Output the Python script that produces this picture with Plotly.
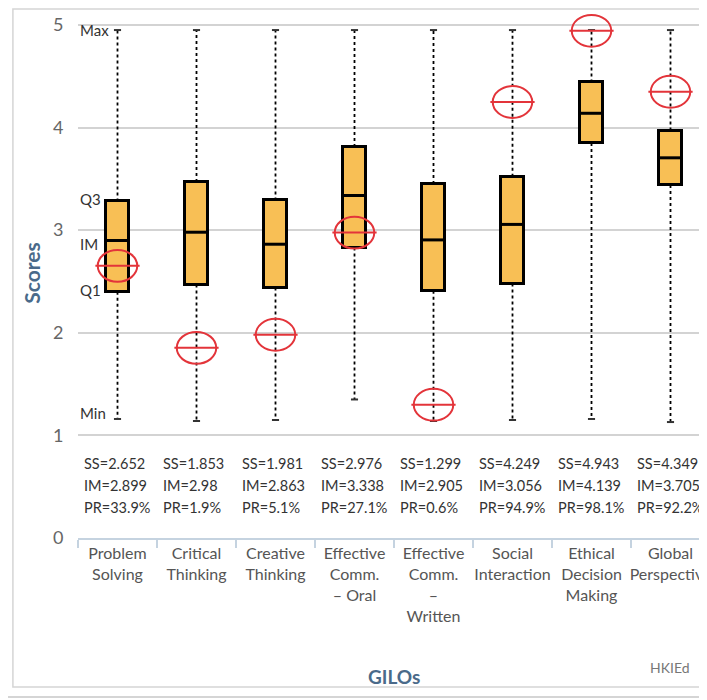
import plotly.graph_objects as go

categories = ["Problem<br>Solving", "Critical<br>Thinking", "Creative<br>Thinking",
              "Effective<br>Comm.<br>– Oral", "Effective<br>Comm.<br>–<br>Written",
              "Social<br>Interaction", "Ethical<br>Decision<br>Making", "Global<br>Perspective"]
q1 = [2.40, 2.47, 2.44, 2.83, 2.41, 2.48, 3.85, 3.44]
median = [2.899, 2.98, 2.863, 3.338, 2.905, 3.056, 4.139, 3.705]
q3 = [3.28, 3.47, 3.29, 3.81, 3.45, 3.52, 4.44, 3.97]
vmin = [1.16, 1.14, 1.15, 1.35, 1.14, 1.15, 1.16, 1.13]
vmax = [4.95, 4.95, 4.95, 4.95, 4.95, 4.95, 4.95, 4.95]
ss = [2.652, 1.853, 1.981, 2.976, 1.299, 4.249, 4.943, 4.349]
pr = ["33.9%", "1.9%", "5.1%", "27.1%", "0.6%", "94.9%", "98.1%", "92.2%"]
ytick_vals = [0, 1, 2, 3, 4, 5]

FONT = "Lato"
xs = list(range(len(categories)))
BOXW = 0.30

fig = go.Figure()

# whiskers
wx, wy = [], []
for i in xs:
    wx += [i, i, None, i, i, None]
    wy += [q3[i], vmax[i], None, q1[i], vmin[i], None]
fig.add_trace(go.Scatter(x=wx, y=wy, mode="lines",
                         line=dict(color="black", width=1.8, dash="dot"),
                         hoverinfo="skip", showlegend=False))
# caps
cx, cy = [], []
for i in xs:
    for v in (vmax[i], vmin[i]):
        cx += [i - 0.045, i + 0.045, None]
        cy += [v, v, None]
fig.add_trace(go.Scatter(x=cx, y=cy, mode="lines",
                         line=dict(color="#333", width=2),
                         hoverinfo="skip", showlegend=False))

# boxes
fig.add_trace(go.Bar(x=xs, y=[q3[i] - q1[i] for i in xs], base=q1, width=BOXW,
                     marker=dict(color="#F8BF55", line=dict(color="black", width=3)),
                     showlegend=False, hoverinfo="skip"))
# medians
mx, my = [], []
for i in xs:
    mx += [i - BOXW / 2, i + BOXW / 2, None]
    my += [median[i], median[i], None]
fig.add_trace(go.Scatter(x=mx, y=my, mode="lines",
                         line=dict(color="black", width=3),
                         hoverinfo="skip", showlegend=False))

shapes = []
annotations = []
RED = "#E3343A"
for i in xs:
    shapes.append(dict(type="circle", xref="x", yref="y",
                       x0=i - 0.25, x1=i + 0.25, y0=ss[i] - 0.155, y1=ss[i] + 0.155,
                       line=dict(color=RED, width=2)))
    shapes.append(dict(type="line", xref="x", yref="y",
                       x0=i - 0.28, x1=i + 0.28, y0=ss[i], y1=ss[i],
                       line=dict(color=RED, width=2)))
    for txt, yv in ((f"SS={ss[i]}", 0.73), (f"IM={median[i]}", 0.515),
                    (f"PR={pr[i]}", 0.30)):
        annotations.append(dict(x=i - 0.45, y=yv, xref="x", yref="y", text=txt,
                                showarrow=False, xanchor="left", yanchor="middle",
                                font=dict(family=FONT, size=14.5, color="#333")))

# labels on first box
for txt, yv in (("Max", vmax[0]), ("Q3", q3[0] + 0.02), ("IM", median[0] - 0.03),
                ("Q1", q1[0] + 0.02), ("Min", vmin[0] + 0.06)):
    annotations.append(dict(x=-0.5, y=yv, xref="x", yref="y", text=txt,
                            showarrow=False, xanchor="left", yanchor="middle",
                            font=dict(family=FONT, size=15, color="#333")))

# axis title and credit
annotations.append(dict(x=0.5, y=-0.262, xref="paper", yref="paper", text="<b>GILOs</b>",
                        showarrow=False, xanchor="center", yanchor="middle",
                        font=dict(family=FONT, size=19, color="#4A6A8A")))
annotations.append(dict(x=0.902, y=-0.245, xref="paper", yref="paper", text="HKIEd",
                        showarrow=False, xanchor="left", yanchor="middle",
                        font=dict(family=FONT, size=14, color="#777")))

# frame
shapes.append(dict(type="rect", xref="paper", yref="paper",
                   x0=-0.103, x1=1.03, y0=-0.281, y1=0.998,
                   line=dict(color="#D5D5D5", width=1.5), layer="below"))
shapes.append(dict(type="line", xref="paper", yref="paper",
                   x0=-0.13, x1=1.03, y0=-0.300, y1=-0.300,
                   line=dict(color="#D5D5D5", width=2), layer="below"))

fig.update_layout(
    width=707, height=700,
    margin=dict(l=70, r=5, t=0, b=170),
    paper_bgcolor="white", plot_bgcolor="white",
    shapes=shapes, annotations=annotations,
    bargap=0,
    xaxis=dict(range=[-0.5, 7.5], tickvals=xs, ticktext=categories,
               showgrid=False, zeroline=False, showline=True,
               linecolor="#C5D3E0", linewidth=2,
               ticks="", ticklabeloverflow="allow",
               tickfont=dict(family=FONT, size=16, color="#555"),
               minor=dict(tickvals=[i - 0.5 for i in xs] + [len(xs) - 0.5],
                          ticks="outside", ticklen=8, tickcolor="#C5D3E0", tickwidth=1.5),
               fixedrange=True),
    yaxis=dict(range=[0, 5.165], tickvals=ytick_vals,
               showgrid=True, gridcolor="#D3D3D3", gridwidth=2,
               zeroline=False, showline=False,
               ticks="outside", ticklen=10, tickcolor="rgba(0,0,0,0)",
               tickfont=dict(family=FONT, size=18, color="#666"),
               title=dict(text="<b>Scores</b>", standoff=6,
                          font=dict(family=FONT, size=21, color="#4A6A8A"))),
    font=dict(family=FONT),
)

fig.write_html("out.html")
